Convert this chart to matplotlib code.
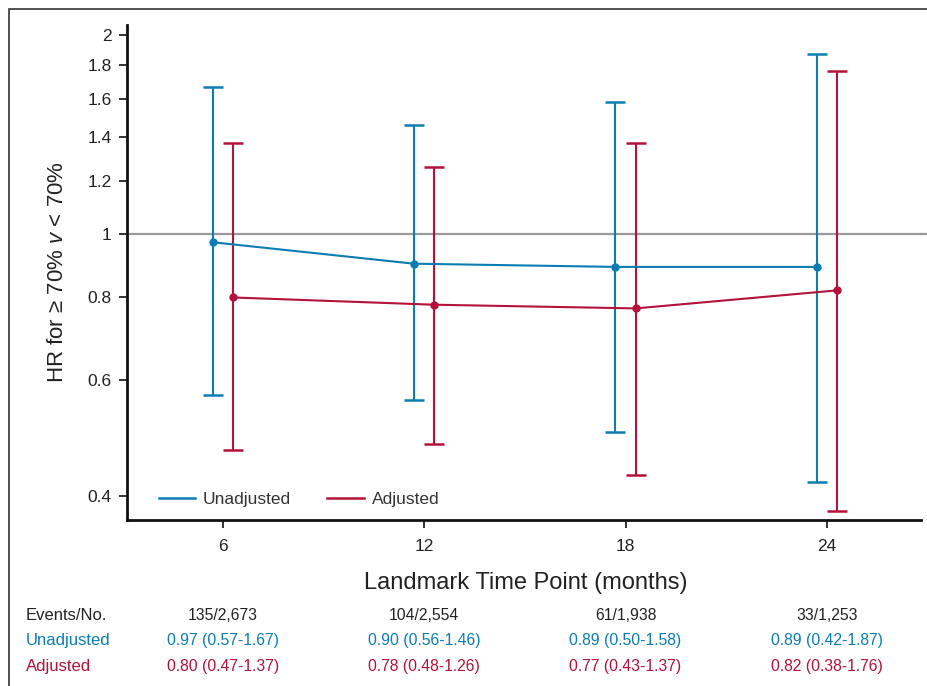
import matplotlib
matplotlib.use("Agg")
import matplotlib.pyplot as plt
from matplotlib.patches import Rectangle
from matplotlib.lines import Line2D
from matplotlib.ticker import FixedLocator, NullLocator
from matplotlib.transforms import blended_transform_factory

plt.rcParams['font.family'] = ['Liberation Sans', 'DejaVu Sans']
plt.rcParams['mathtext.fontset'] = 'custom'
plt.rcParams['mathtext.it'] = 'Liberation Sans:italic'
plt.rcParams['mathtext.rm'] = 'Liberation Sans'

time_points = [6, 12, 18, 24]
unadj_hr = [0.97, 0.90, 0.89, 0.89]
unadj_lo = [0.57, 0.56, 0.50, 0.42]
unadj_hi = [1.67, 1.46, 1.58, 1.87]
adj_hr = [0.80, 0.78, 0.77, 0.82]
adj_lo = [0.47, 0.48, 0.43, 0.38]
adj_hi = [1.37, 1.26, 1.37, 1.76]
events = ["135/2,673", "104/2,554", "61/1,938", "33/1,253"]
y_ticks = [0.4, 0.6, 0.8, 1, 1.2, 1.4, 1.6, 1.8, 2]
y_ticklabels = ["0.4", "0.6", "0.8", "1", "1.2", "1.4", "1.6", "1.8", "2"]

BLUE = "#0a7db3"
RED = "#b3123a"
TXT = "#222222"

fig = plt.figure(figsize=(9.27, 6.86), dpi=100)
ax = fig.add_axes([127/927, 1-520/686, (921-127)/927, (520-25)/686])

ax.set_yscale('log')
ax.set_ylim(0.368, 2.07)
ax.set_xlim(3.15, 26.8)

ax.axhline(1, color="#9a9a9a", lw=1.6, zorder=1)
ax.plot([26.8, 26.95], [1, 1], color="#9a9a9a", lw=1.6, clip_on=False, zorder=1)

off = 0.3
ux = [t - off for t in time_points]
axx = [t + off for t in time_points]

def draw(xs, hr, lo, hi, color, label):
    yerr = [[h - l for h, l in zip(hr, lo)], [u - h for h, u in zip(hr, hi)]]
    ax.errorbar(xs, hr, yerr=yerr, fmt='none', ecolor=color, elinewidth=1.5,
                capsize=7.2, capthick=1.8, zorder=2)
    ax.plot(xs, hr, color=color, lw=1.5, marker='o', markersize=5, zorder=3, label=label)

draw(ux, unadj_hr, unadj_lo, unadj_hi, BLUE, "Unadjusted")
draw(axx, adj_hr, adj_lo, adj_hi, RED, "Adjusted")

ax.yaxis.set_major_locator(FixedLocator(y_ticks))
ax.yaxis.set_minor_locator(NullLocator())
ax.set_yticklabels(y_ticklabels)
ax.set_xticks(time_points)
ax.set_xticklabels([str(t) for t in time_points])
ax.tick_params(axis='both', direction='out', length=6, width=1.3, labelsize=12.5,
               colors=TXT, pad=5)
ax.tick_params(axis='x', pad=8)

for s in ['top', 'right']:
    ax.spines[s].set_visible(False)
for s in ['left', 'bottom']:
    ax.spines[s].set_linewidth(2)
    ax.spines[s].set_color('#111111')

ax.set_ylabel("HR for ≥ 70% $\\it{v}$ < 70%", fontsize=16, color=TXT, labelpad=14)

handles = [Line2D([0], [0], color=BLUE, lw=1.8), Line2D([0], [0], color=RED, lw=1.8)]
ax.legend(handles, ["Unadjusted", "Adjusted"], loc='lower left', ncol=2, frameon=False,
          fontsize=12.5, handlelength=2.1, handletextpad=0.45, columnspacing=2.1,
          bbox_to_anchor=(0.02, -0.005), labelcolor='#333333')

# x label and table
fig.text(526/927, 1-583/686, "Landmark Time Point (months)", ha='center', va='center',
         fontsize=17, color=TXT)

trans = blended_transform_factory(ax.transData, fig.transFigure)
row_y = [616, 641, 667]
labels = ["Events/No.", "Unadjusted", "Adjusted"]
colors = [TXT, BLUE, RED]
unadj_txt = [f"{h:.2f} ({l:.2f}-{u:.2f})" for h, l, u in zip(unadj_hr, unadj_lo, unadj_hi)]
adj_txt = [f"{h:.2f} ({l:.2f}-{u:.2f})" for h, l, u in zip(adj_hr, adj_lo, adj_hi)]
rows = [events, unadj_txt, adj_txt]
for r, (lab, col, vals) in enumerate(zip(labels, colors, rows)):
    fig.text(26/927, 1-row_y[r]/686, lab, ha='left', va='center', fontsize=12,
             color=col)
    for t, v in zip(time_points, vals):
        ax.text(t, 1-row_y[r]/686, v, ha='center', va='center', fontsize=11.3,
                color=col, transform=trans, clip_on=False)

# outer border
fig.patches.append(Rectangle((9/927, -0.05), 1.0, 1-9/686+0.05, transform=fig.transFigure,
                             fill=False, edgecolor='#333333', lw=1.2, clip_on=False))

fig.savefig("out.png", dpi=100)
